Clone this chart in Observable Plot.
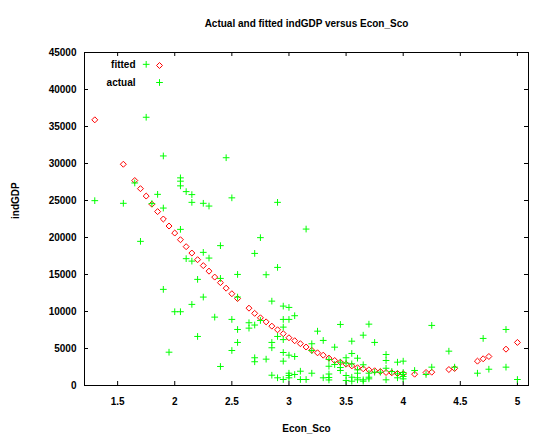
<!DOCTYPE html>
<html>
<head>
<meta charset="utf-8">
<script src="https://cdn.jsdelivr.net/npm/d3@7"></script>
<script src="https://cdn.jsdelivr.net/npm/@observablehq/plot@0.6"></script>
<style>
  html, body { margin: 0; padding: 0; background: #fff; }
</style>
</head>
<body>
<div id="chart"></div>
<script>
const titleText = "Actual and fitted indGDP versus Econ_Sco";
const xLabel = "Econ_Sco";
const yLabel = "indGDP";
const legendLabels = ["fitted", "actual"];
const xTicks = [1.5, 2, 2.5, 3, 3.5, 4, 4.5, 5];
const yTicks = [0, 5000, 10000, 15000, 20000, 25000, 30000, 35000, 40000, 45000];

const fittedX = [1.30, 1.55, 1.65, 1.70, 1.75, 1.80, 1.85, 1.90, 1.95, 2.00, 2.05, 2.10, 2.15, 2.20, 2.25, 2.30, 2.35, 2.40, 2.45, 2.50, 2.55, 2.65, 2.70, 2.75, 2.80, 2.85, 2.90, 2.95, 3.00, 3.05, 3.10, 3.15, 3.20, 3.25, 3.30, 3.35, 3.40, 3.45, 3.50, 3.55, 3.60, 3.65, 3.70, 3.75, 3.80, 3.85, 3.90, 3.95, 4.00, 4.10, 4.20, 4.25, 4.40, 4.45, 4.65, 4.70, 4.75, 4.90, 5.00];
const fittedY = [35900, 29900, 27700, 26600, 25600, 24500, 23500, 22500, 21550, 20600, 19700, 18760, 17900, 17000, 16200, 15450, 14650, 13900, 13150, 12400, 11750, 10450, 9750, 9150, 8600, 8020, 7530, 7000, 6450, 6050, 5650, 5200, 4750, 4420, 4100, 3700, 3380, 3150, 2880, 2650, 2400, 2260, 2120, 1990, 1890, 1760, 1720, 1620, 1600, 1530, 1760, 1800, 2160, 2300, 3290, 3610, 3920, 4910, 5820];

const actualX = [1.30, 1.55, 1.65, 1.70, 1.75, 1.75, 1.80, 1.85, 1.90, 1.90, 1.90, 1.95, 2.00, 2.05, 2.05, 2.05, 2.05, 2.05, 2.10, 2.10, 2.15, 2.15, 2.15, 2.15, 2.20, 2.20, 2.25, 2.25, 2.25, 2.30, 2.30, 2.35, 2.40, 2.40, 2.40, 2.45, 2.50, 2.50, 2.50, 2.55, 2.55, 2.55, 2.55, 2.65, 2.65, 2.70, 2.70, 2.70, 2.70, 2.75, 2.75, 2.80, 2.80, 2.85, 2.85, 2.85, 2.85, 2.90, 2.90, 2.90, 2.90, 2.95, 2.95, 2.95, 2.95, 2.95, 2.95, 2.95, 3.00, 3.00, 3.00, 3.00, 3.00, 3.00, 3.05, 3.05, 3.05, 3.10, 3.10, 3.15, 3.15, 3.20, 3.20, 3.20, 3.25, 3.30, 3.30, 3.35, 3.35, 3.35, 3.35, 3.35, 3.40, 3.40, 3.45, 3.45, 3.45, 3.45, 3.50, 3.50, 3.50, 3.50, 3.55, 3.55, 3.55, 3.55, 3.55, 3.60, 3.60, 3.60, 3.60, 3.60, 3.65, 3.65, 3.65, 3.65, 3.70, 3.70, 3.70, 3.70, 3.75, 3.75, 3.80, 3.85, 3.85, 3.85, 3.85, 3.90, 3.95, 3.95, 3.95, 4.00, 4.00, 4.00, 4.00, 4.00, 4.10, 4.20, 4.25, 4.25, 4.40, 4.45, 4.65, 4.70, 4.75, 4.90, 4.90, 5.00];
const actualY = [24980, 24620, 27370, 19480, 43400, 36250, 24580, 25830, 31020, 23980, 12990, 4500, 9970, 28060, 27610, 26980, 21100, 9970, 26200, 17140, 25800, 24750, 16810, 10960, 14340, 6630, 24620, 17990, 11950, 24250, 17220, 9240, 18900, 14470, 2570, 30780, 25360, 8930, 4730, 15010, 11950, 7570, 5820, 8480, 7750, 17850, 8170, 3750, 3210, 19980, 8790, 14970, 3560, 11400, 5820, 5100, 1390, 24750, 15960, 6630, 1040, 10730, 8930, 7890, 6200, 4460, 3290, 810, 10550, 8930, 4100, 1660, 1350, 1040, 9430, 3920, 1490, 1930, 810, 21140, 810, 5640, 4730, 1660, 7340, 6090, 1040, 3520, 2600, 1550, 1080, 750, 5180, 2840, 8250, 3150, 2430, 2030, 3750, 3020, 1350, 680, 5990, 4330, 2930, 1120, 580, 3690, 2120, 1660, 1040, 770, 6800, 2800, 770, 580, 8290, 1660, 1120, 900, 5820, 1800, 1800, 4190, 3380, 2330, 770, 1890, 3150, 1580, 1040, 3290, 1760, 1490, 1220, 900, 2030, 1490, 8120, 2480, 4640, 2480, 1660, 6360, 2200, 7570, 2480, 810];

const fitted = fittedX.map((x, i) => ({x, y: fittedY[i]}));
const actual = actualX.map((x, i) => ({x, y: actualY[i]}));

const W = 552, H = 439;
const mL = 84, mR = 24, mT = 52, mB = 54;
const innerW = W - mL - mR, innerH = H - mT - mB;
const tick = 4;
const green = "#00ff00", red = "#ff0000";

const chart = Plot.plot({
  width: W,
  height: H,
  marginLeft: mL,
  marginRight: mR,
  marginTop: mT,
  marginBottom: mB,
  style: {fontFamily: "'Liberation Sans', Arial, sans-serif", fontSize: "10px", fontWeight: "bold", background: "#fff", color: "#000"},
  x: {domain: [1.21, 5.097]},
  y: {domain: [0, 45000]},
  marks: [
    Plot.frame({stroke: "#000", strokeWidth: 1}),
    Plot.tickX(xTicks, {x: d => d, insetTop: innerH - tick, stroke: "#000"}),
    Plot.tickX(xTicks, {x: d => d, insetBottom: innerH - tick, stroke: "#000"}),
    Plot.tickY(yTicks, {y: d => d, insetRight: innerW - tick, stroke: "#000"}),
    Plot.tickY(yTicks, {y: d => d, insetLeft: innerW - tick, stroke: "#000"}),
    Plot.axisX(xTicks, {anchor: "bottom", tickSize: 0, tickPadding: 12, tickFormat: d => String(d), label: null}),
    Plot.axisY(yTicks, {anchor: "left", tickSize: 0, tickPadding: 8, tickFormat: d => String(d), label: null}),
    Plot.dot(fitted, {x: "x", y: "y", symbol: "diamond2", r: 2.7, stroke: red, fill: "none", strokeWidth: 1}),
    Plot.dot(actual, {x: "x", y: "y", symbol: "plus", r: 2.3, stroke: green, strokeWidth: 1}),
    Plot.text([titleText], {frameAnchor: "top", lineAnchor: "middle", dy: -29, text: d => d}),
    Plot.text([xLabel], {frameAnchor: "bottom", lineAnchor: "middle", dy: 43, text: d => d}),
    Plot.text([yLabel], {frameAnchor: "left", lineAnchor: "middle", dx: -69, rotate: -90, text: d => d}),
    Plot.text([legendLabels[0]], {frameAnchor: "top-left", lineAnchor: "middle", dx: 51, dy: 12, textAnchor: "end", text: d => d}),
    Plot.text([legendLabels[1]], {frameAnchor: "top-left", lineAnchor: "middle", dx: 51, dy: 30, textAnchor: "end", text: d => d}),
    Plot.dot([legendLabels[0]], {frameAnchor: "top-left", dx: 75, dy: 13, symbol: "diamond2", r: 2.7, stroke: red, fill: "none", strokeWidth: 1}),
    Plot.dot([legendLabels[1]], {frameAnchor: "top-left", dx: 75, dy: 30, symbol: "plus", r: 2.3, stroke: green, strokeWidth: 1})
  ]
});
document.getElementById("chart").appendChild(chart);
</script>
</body>
</html>
